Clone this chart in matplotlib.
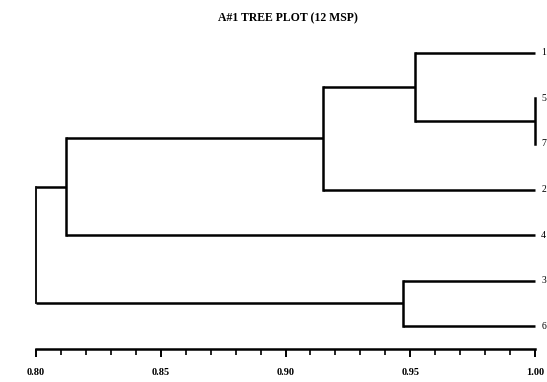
import matplotlib
matplotlib.use("Agg")
import matplotlib.pyplot as plt
from matplotlib.ticker import MultipleLocator, FormatStrFormatter

# leaf order from top to bottom
leaves = ["1", "5", "7", "2", "4", "3", "6"]
# merges: (left node, right node, similarity); new node gets next id
merges = [
    ("5", "7", 1.000),
    ("1", "n0", 0.952),
    ("3", "6", 0.947),
    ("n1", "2", 0.915),
    ("n3", "4", 0.812),
    ("n4", "n2", 0.800),
]
title = "A#1 TREE PLOT (12 MSP)"

plt.rcParams['font.family'] = ['Liberation Serif', 'DejaVu Serif']

fig = plt.figure(figsize=(5.47, 3.82), dpi=100)
ax = fig.add_axes([36 / 547, 1 - 349 / 382, 499 / 547, 319 / 382])

# node positions: (x, y)
pos = {name: (1.0, i) for i, name in enumerate(leaves)}
lw = 1.8
for k, (a, b, h) in enumerate(merges):
    xa, ya = pos[a]
    xb, yb = pos[b]
    ax.plot([xa, h], [ya, ya], color="black", lw=lw, solid_capstyle="butt",
            clip_on=False)
    ax.plot([xb, h], [yb, yb], color="black", lw=lw, solid_capstyle="butt",
            clip_on=False)
    ax.plot([h, h], [ya, yb], color="black", lw=lw if k < 5 else 1.3,
            solid_capstyle="projecting", clip_on=False)
    pos["n%d" % k] = (h, (ya + yb) / 2)

for i, name in enumerate(leaves):
    ax.text(1.0025, i, name, fontsize=7, va="center", ha="left",
            clip_on=False)

ax.set_xlim(0.80, 1.00)
ax.set_ylim(6.5, -0.5)
ax.xaxis.set_major_locator(MultipleLocator(0.05))
ax.xaxis.set_minor_locator(MultipleLocator(0.01))
ax.xaxis.set_major_formatter(FormatStrFormatter("%.2f"))
ax.tick_params(axis="x", which="major", direction="out", length=6, width=1.4,
               labelsize=7.5, pad=8)
ax.tick_params(axis="x", which="minor", direction="out", length=4, width=1.2)
ax.set_yticks([])
for s in ["top", "left", "right"]:
    ax.spines[s].set_visible(False)
ax.spines["bottom"].set_linewidth(1.8)
for lab in ax.get_xticklabels():
    lab.set_fontweight("bold")

fig.text(288 / 547, 1 - 18 / 382, title, ha="center", va="center",
         fontsize=8.5, fontweight="bold")

fig.savefig("out.png", dpi=100)
